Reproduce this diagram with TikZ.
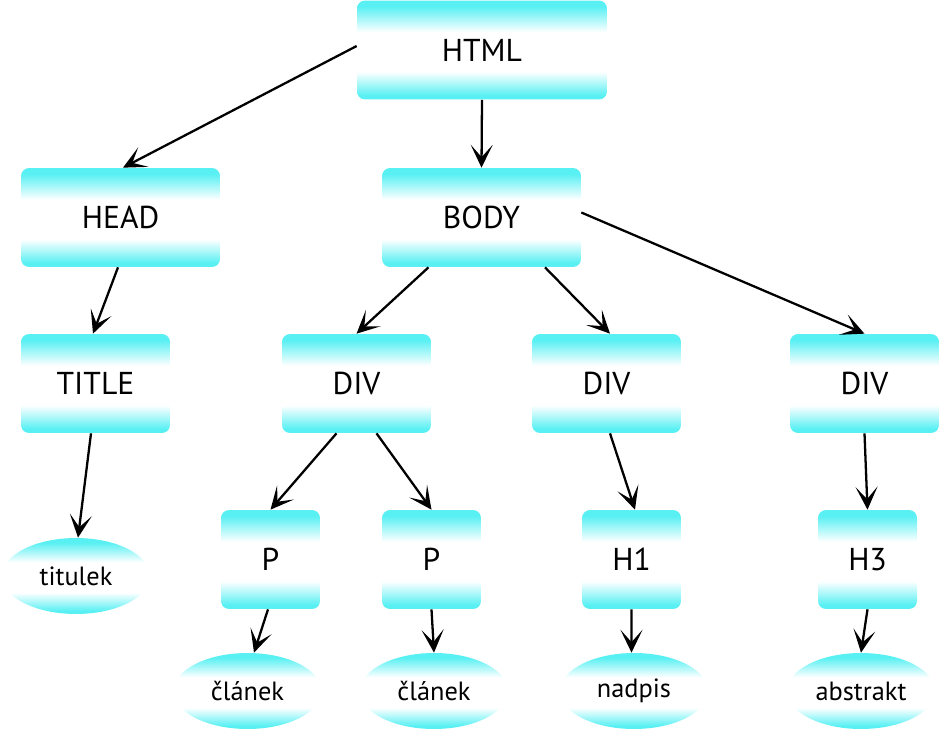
\documentclass[tikz,border=0pt]{standalone}
\usepackage{fontspec}
\setmainfont{PT Sans}
\usetikzlibrary{shapes.geometric,arrows.meta}
\definecolor{tagcyan}{RGB}{88,240,243}
\pgfdeclareverticalshading{tagfade}{100bp}{color(0bp)=(tagcyan); color(27bp)=(tagcyan);
  color(39bp)=(white); color(59bp)=(white); color(72bp)=(tagcyan); color(100bp)=(tagcyan)}
\tikzset{
  tag/.style={rectangle, rounded corners=0.16cm, inner sep=0pt, shading=tagfade,
    minimum height=1.98cm, font=\fontsize{18}{20}\selectfont},
  leaf/.style={ellipse, inner sep=0pt, shading=tagfade,
    minimum width=2.96cm, minimum height=1.52cm, font=\fontsize{15}{18}\selectfont},
  link/.style={-{Stealth[length=13pt,width=12.5pt,inset=7pt]}, line width=1.3pt}
}

\begin{document}
\begin{tikzpicture}[x=0.02cm,y=-0.02cm]
	\useasboundingbox (0,0) rectangle (940,730);

	% Tags
	\node[tag, minimum width=5cm] (html) at (482,50) {HTML};
	\node[tag, minimum width=3.98cm] (head) at (120.5,217.5) {HEAD};
	\node[tag, minimum width=3.98cm] (body) at (481.5,217.5) {BODY};
	\node[tag, minimum width=2.98cm] (title) at (95.5,383.5) {TITLE};
	\node[tag, minimum width=2.98cm] (div1) at (356.5,383.5) {DIV};
	\node[tag, minimum width=2.98cm] (div2) at (606.5,383.5) {DIV};
	\node[tag, minimum width=2.98cm] (div3) at (864.5,383.5) {DIV};
	\node[tag, minimum width=1.98cm] (p1) at (270.5,559.5) {P};
	\node[tag, minimum width=1.98cm] (p2) at (431.5,559.5) {P};
	\node[tag, minimum width=1.98cm] (h1) at (631.5,559.5) {H1};
	\node[tag, minimum width=1.98cm] (h3) at (867.5,559.5) {H3};

	% Texts
	\node[leaf] (titulek) at (76,576) {titulek};
	\node[leaf] (clanek1) at (247.5,691) {článek};
	\node[leaf] (clanek2) at (434,691) {článek};
	\node[leaf] (nadpis) at (634,691) {nadpis};
	\node[leaf] (abstrakt) at (861,691) {abstrakt};

	% Links
	\draw[link] ([yshift=0.08cm]html.west) -- ([xshift=0.05cm]head.north);
	\draw[link] (html.south) -- (body.north);
	\draw[link] ([xshift=-0.05cm]head.south) -- ([xshift=-0.05cm]title.north);
	\draw[link] ([yshift=0.1cm]body.east) -- (div3.north);
	\draw[link] ([xshift=-1.06cm]body.south) -- (div1.north);
	\draw[link] ([xshift=1.27cm]body.south) -- ([xshift=0.07cm]div2.north);
	\draw[link] ([xshift=-0.09cm]title.south) -- ([xshift=0.04cm]titulek.north);
	\draw[link] ([xshift=-0.4cm]div1.south) -- (p1.north);
	\draw[link] ([xshift=0.4cm]div1.south) -- (p2.north);
	\draw[link] ([xshift=0.07cm]div2.south) -- ([xshift=0.07cm]h1.north);
	\draw[link] (div3.south) -- (h3.north);
	\draw[link] ([xshift=-0.05cm]p1.south) -- ([xshift=0.13cm]clanek1.north);
	\draw[link] (p2.south) -- (clanek2.north);
	\draw[link] (h1.south) -- ([xshift=-0.05cm]nadpis.north);
	\draw[link] (h3.south) -- (abstrakt.north);
\end{tikzpicture}
\end{document}
